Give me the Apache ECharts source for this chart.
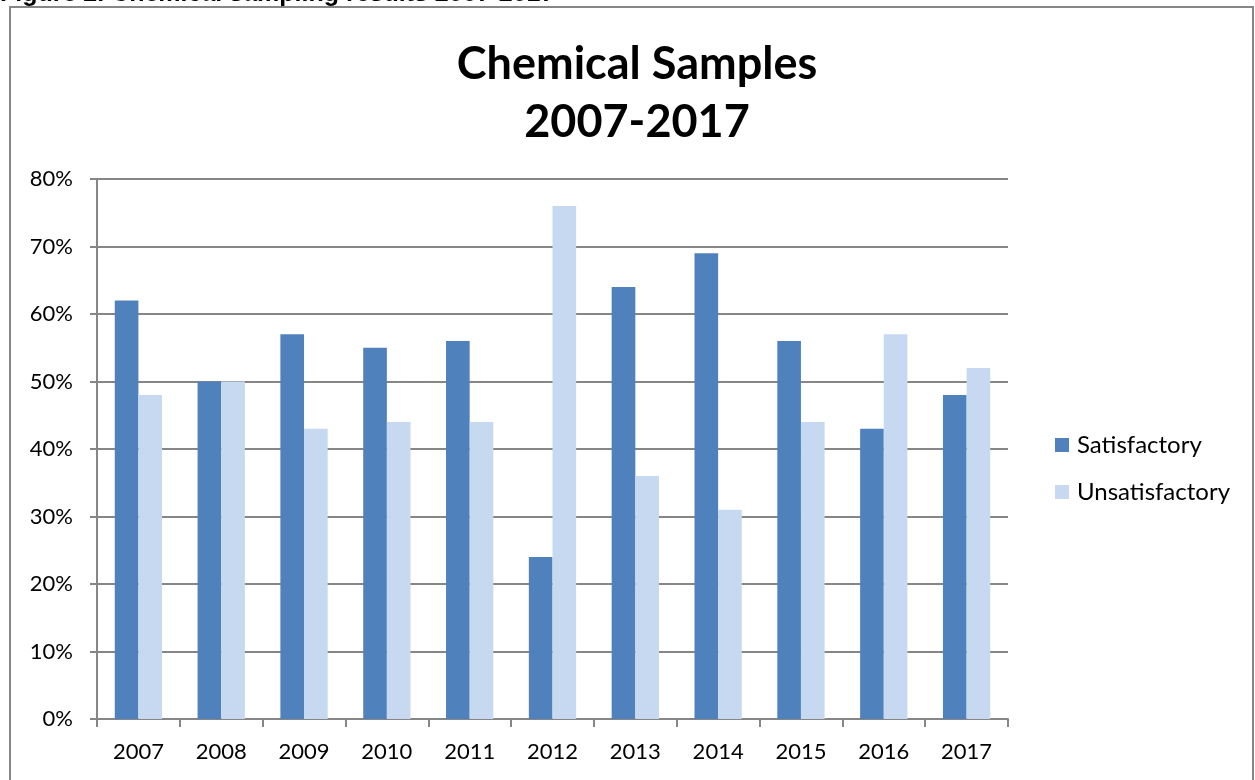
<!DOCTYPE html>
<html>
<head>
<meta charset="utf-8">
<script src="https://cdn.jsdelivr.net/npm/echarts@6/dist/echarts.min.js"></script>
<style>
  html, body { margin: 0; padding: 0; background: #fff; }
  #chart { width: 1255px; height: 780px; }
</style>
</head>
<body>
<div id="chart"></div>
<script>
// Sampling years and the share of chemical samples in each outcome (%)
const years = ['2007', '2008', '2009', '2010', '2011', '2012', '2013', '2014', '2015', '2016', '2017'];
const satisfactory = [62, 50, 57, 55, 56, 24, 64, 69, 56, 43, 48];
const unsatisfactory = [48, 50, 43, 44, 44, 76, 36, 31, 44, 57, 52];
const yTicks = [0, 10, 20, 30, 40, 50, 60, 70, 80];

const FONT = 'Lato, "Open Sans", sans-serif';
const GRID = '#868686';

const chart = echarts.init(document.getElementById('chart'), null, { renderer: 'canvas' });

chart.setOption({
  backgroundColor: '#ffffff',
  animation: false,
  title: {
    text: 'Chemical Samples\n2007-2017',
    left: 632,
    top: 30,
    textAlign: 'center',
    textStyle: {
      fontFamily: FONT,
      fontWeight: 'bold',
      fontSize: 45,
      lineHeight: 58,
      color: '#000'
    }
  },
  graphic: [
    {
      type: 'text',
      left: 0,
      top: -18,
      style: {
        text: 'Figure 2. Chemical sampling results 2007-2017',
        font: 'bold 25px "Liberation Sans", Arial, sans-serif',
        fill: '#000'
      }
    },
    {
      type: 'rect',
      shape: { x: 10, y: 7, width: 1243, height: 800 },
      style: { fill: '#fff', stroke: GRID, lineWidth: 2 },
      z: -1
    }
  ],
  legend: {
    orient: 'vertical',
    left: 1050,
    top: 428,
    itemWidth: 14,
    itemHeight: 14,
    itemGap: 23,
    icon: 'rect',
    textStyle: { fontFamily: FONT, fontSize: 24, color: '#000', padding: [0, 0, 0, 3] },
    data: ['Satisfactory', 'Unsatisfactory']
  },
  grid: {
    left: 97,
    right: 247,
    top: 179,
    bottom: 61,
    containLabel: false
  },
  xAxis: {
    type: 'category',
    data: years,
    axisLine: { show: true, lineStyle: { color: GRID, width: 2 } },
    axisTick: { show: true, alignWithLabel: false, length: 8, lineStyle: { color: GRID, width: 2 } },
    axisLabel: { fontFamily: FONT, fontSize: 22, color: '#000', margin: 22 }
  },
  yAxis: {
    type: 'value',
    min: yTicks[0],
    max: yTicks[yTicks.length - 1],
    interval: 10,
    axisLine: { show: true, lineStyle: { color: GRID, width: 2 } },
    axisTick: { show: true, length: 7, lineStyle: { color: GRID, width: 2 } },
    splitLine: { show: true, lineStyle: { color: GRID, width: 2 } },
    axisLabel: { fontFamily: FONT, fontSize: 22, color: '#000', margin: 24, formatter: '{value}%' }
  },
  series: [
    {
      name: 'Satisfactory',
      type: 'bar',
      data: satisfactory,
      barGap: '0%',
      barCategoryGap: '42.9%',
      itemStyle: { color: '#4F81BD' }
    },
    {
      name: 'Unsatisfactory',
      type: 'bar',
      data: unsatisfactory,
      barGap: '0%',
      barCategoryGap: '42.9%',
      itemStyle: { color: '#C6D9F1' }
    }
  ]
});
</script>
</body>
</html>
